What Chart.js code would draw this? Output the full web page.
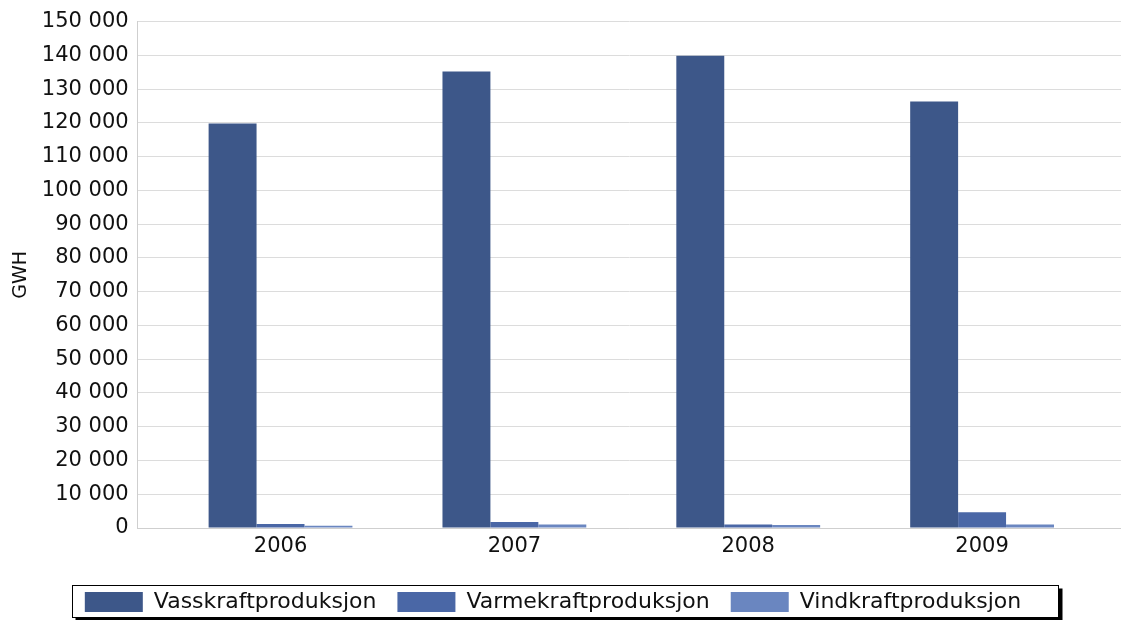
<!DOCTYPE html>
<html>
<head>
<meta charset="utf-8">
<script src="https://cdn.jsdelivr.net/npm/chart.js@4.4.1/dist/chart.umd.min.js"></script>
<style>
  html, body { margin: 0; padding: 0; background: #ffffff; }
  #wrap { width: 1121px; height: 620px; position: relative; }
</style>
</head>
<body>
<div id="wrap"><canvas id="c" width="1121" height="620"></canvas></div>
<script>
// ---- data ----
const years = [2006, 2007, 2008, 2009];
const seriesNames = ['Vasskraftproduksjon', 'Varmekraftproduksjon', 'Vindkraftproduksjon'];
const vasskraft = [119800, 135200, 139900, 126300];
const varmekraft = [1200, 1800, 1000, 4700];
const vindkraft = [700, 1000, 900, 1000];
const yTicksMax = 150000;
const yTickStep = 10000;
const yTitle = 'GWH';

const colors = ['#3d5789', '#4a67a6', '#6a86c0'];
const FONT = 'DejaVu Sans';

function fmt(v) {
  return String(v).replace(/\B(?=(\d{3})+(?!\d))/g, ' ');
}

const allSeries = [vasskraft, varmekraft, vindkraft];
const datasets = allSeries.map((vals, i) => ({
  label: seriesNames[i],
  data: vals.map((v, j) => ({ x: years[j], y: v })),
  backgroundColor: colors[i],
  borderWidth: 0,
  categoryPercentage: 0.615,
  barPercentage: 1.0
}));

const legendFrame = {
  id: 'legendFrame',
  afterLayout(chart) {
    // shift the legend row slightly left, as in the original
    if (chart.legend) chart.legend.left -= 23;
  },
  afterDraw(chart) {
    const lg = chart.legend;
    if (!lg || !lg.legendHitBoxes || !lg.legendHitBoxes.length) return;
    const hb = lg.legendHitBoxes;
    const first = hb[0], last = hb[hb.length - 1];
    const left = Math.round(first.left - 13) + 0.5;
    const right = Math.round(last.left + last.width + 37) + 0.5;
    const top = Math.round(first.top - 6) + 0.5;
    const bottom = Math.round(first.top + first.height + 4) + 0.5;
    const ctx = chart.ctx;
    ctx.save();
    ctx.strokeStyle = '#000';
    ctx.lineWidth = 1;
    ctx.strokeRect(left, top, right - left, bottom - top);
    ctx.fillStyle = '#000';
    ctx.fillRect(right, top + 3, 4, bottom - top);
    ctx.fillRect(left + 3, bottom, right - left, 3);
    ctx.restore();
  }
};

new Chart(document.getElementById('c'), {
  type: 'bar',
  data: { datasets },
  options: {
    responsive: false,
    animation: false,
    layout: { padding: { left: 8, right: 0, top: 21, bottom: 0 } },
    plugins: {
      legend: {
        position: 'bottom',
        maxHeight: 50,
        labels: {
          font: { family: FONT, size: 22 },
          color: '#111',
          boxWidth: 58,
          boxHeight: 20,
          padding: 21
        }
      },
      tooltip: { enabled: false }
    },
    scales: {
      x: {
        type: 'linear',
        offset: false,
        min: years[0] - 0.611,
        max: years[years.length - 1] + 0.594,
        grid: { display: false, drawTicks: false },
        border: { display: true, color: '#cfcfcf' },
        afterFit: (scale) => { scale.height = 42; },
        ticks: {
          stepSize: 1,
          includeBounds: false,
          autoSkip: false,
          padding: 6,
          color: '#111',
          font: { family: FONT, size: 21, lineHeight: 1.2 },
          callback: (v) => String(v)
        }
      },
      y: {
        min: 0,
        max: yTicksMax,
        grid: { color: '#dcdcdc', drawTicks: false },
        border: { display: true, color: '#cfcfcf' },
        ticks: {
          stepSize: yTickStep,
          padding: 9,
          color: '#111',
          font: { family: FONT, size: 21 },
          callback: (v) => fmt(v)
        },
        title: {
          display: true,
          text: yTitle,
          color: '#111',
          font: { family: FONT, size: 19 },
          padding: { top: 2, bottom: 0 }
        }
      }
    }
  },
  plugins: [legendFrame]
});
</script>
</body>
</html>
